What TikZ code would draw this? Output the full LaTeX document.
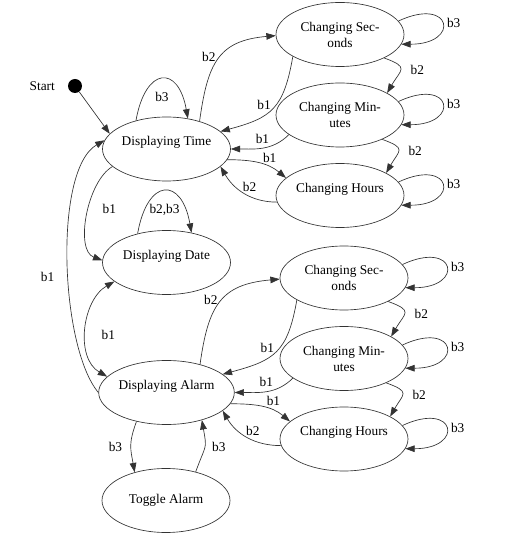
\documentclass[tikz,border=0pt]{standalone}
\usepackage{fontspec}
\setmainfont{Liberation Serif}
\usetikzlibrary{arrows.meta,shapes.geometric}
\tikzset{>={Triangle[length=7pt,width=5pt]}}

\begin{document}
\begin{tikzpicture}[x=0.75pt, y=0.75pt, line width=0.5pt, draw=black!80,
    state/.style = {draw, ellipse, minimum width=96pt, minimum height=48pt, inner sep=0pt, align=center},
    low/.style = {text height=7pt, text depth=12pt},
    selfloop/.style = {out=25, in=0, looseness=6.5},
    toploop/.style = {out=80, in=100, looseness=2.7}]
    \useasboundingbox (0,0) rectangle (516,543);
    \node[circle, fill=black, minimum size=10.5pt, inner sep=0pt, label={[label distance=6pt]left:Start}] (start) at (75,457) {};
    \node[state, low] (time) at (166.5,394) {Displaying Time};
    \node[state, low] (date) at (166.5,280.5) {Displaying Date};
    \node[state, low] (alarm) at (166.5,150.5) {Displaying Alarm};
    \node[state] (toggle) at (166,42.5) {Toggle Alarm};
    \foreach \g/\src/\x/\y in {1/time/340/394, 2/alarm/344/150.5}
    {%
        \node[state] (cs\g) at (\x,\y+114.5) {Changing Sec-\\onds};
        \node[state] (cm\g) at (\x,\y+34) {Changing Min-\\utes};
        \node[state, low] (ch\g) at (\x,\y-46.5) {Changing Hours};
        \draw[->] (\src.40) to[out=82, in=185, looseness=1.3] node[pos=0.52, left] {b2} (cs\g.181);
        \draw[->] (cs\g.205) to[out=260, in=15, looseness=1.3] node[pos=0.45, left] {b1} (\src.18);
        \draw[->] (cm\g.201) to[out=225, in=0] node[above] {b1} (\src.0);
        \draw[->] (\src.350) to[out=0, in=140] node[pos=0.7, above] {b1} (ch\g.162);
        \draw[->] (ch\g.186) to[out=180, in=300] node[pos=0.4, above] {b2} (\src.342);
        \draw[->] (cs\g.-28) to[out=-20, in=60, looseness=2] node[right=4pt] {b2} (cm\g.25);
        \draw[->] (cm\g.-30) to[out=-20, in=60, looseness=2] node[right=4pt] {b2} (ch\g.26);
        \draw[->] (cs\g.13) to[selfloop] node[right] {b3} (cs\g.351);
        \draw[->] (cm\g.13) to[selfloop] node[right] {b3} (cm\g.351);
        \draw[->] (ch\g.13) to[selfloop] node[right] {b3} (ch\g.351);
    };
    \draw[->] (start) -- (time.165);
    \draw[->] (time.137) to[toploop] node[below=6pt] {b3} (time.55);
    \draw[->] (time.198) to[out=210, in=160, looseness=0.8] node[pos=0.45, right=7pt] {b1} (date.178);
    \draw[->] (date.135) to[toploop] node[below=6pt] {b2,b3} (date.50);
    \draw[<->] (date.200) to[out=210, in=150] node[pos=0.55, right=8pt] {b1} (alarm.165);
    \draw[->] (alarm.180) to[out=130, in=210, looseness=0.6] node[pos=0.45, left=7pt] {b1} (time.172);
    \draw[->] (alarm.224) to[out=250, in=100, looseness=1.2] node[left=3pt] {b3} (toggle.138);
    \draw[->] (toggle.44) to[out=70, in=280, looseness=1.5] node[right=2pt] {b3} (alarm.322);
\end{tikzpicture}
\end{document}
